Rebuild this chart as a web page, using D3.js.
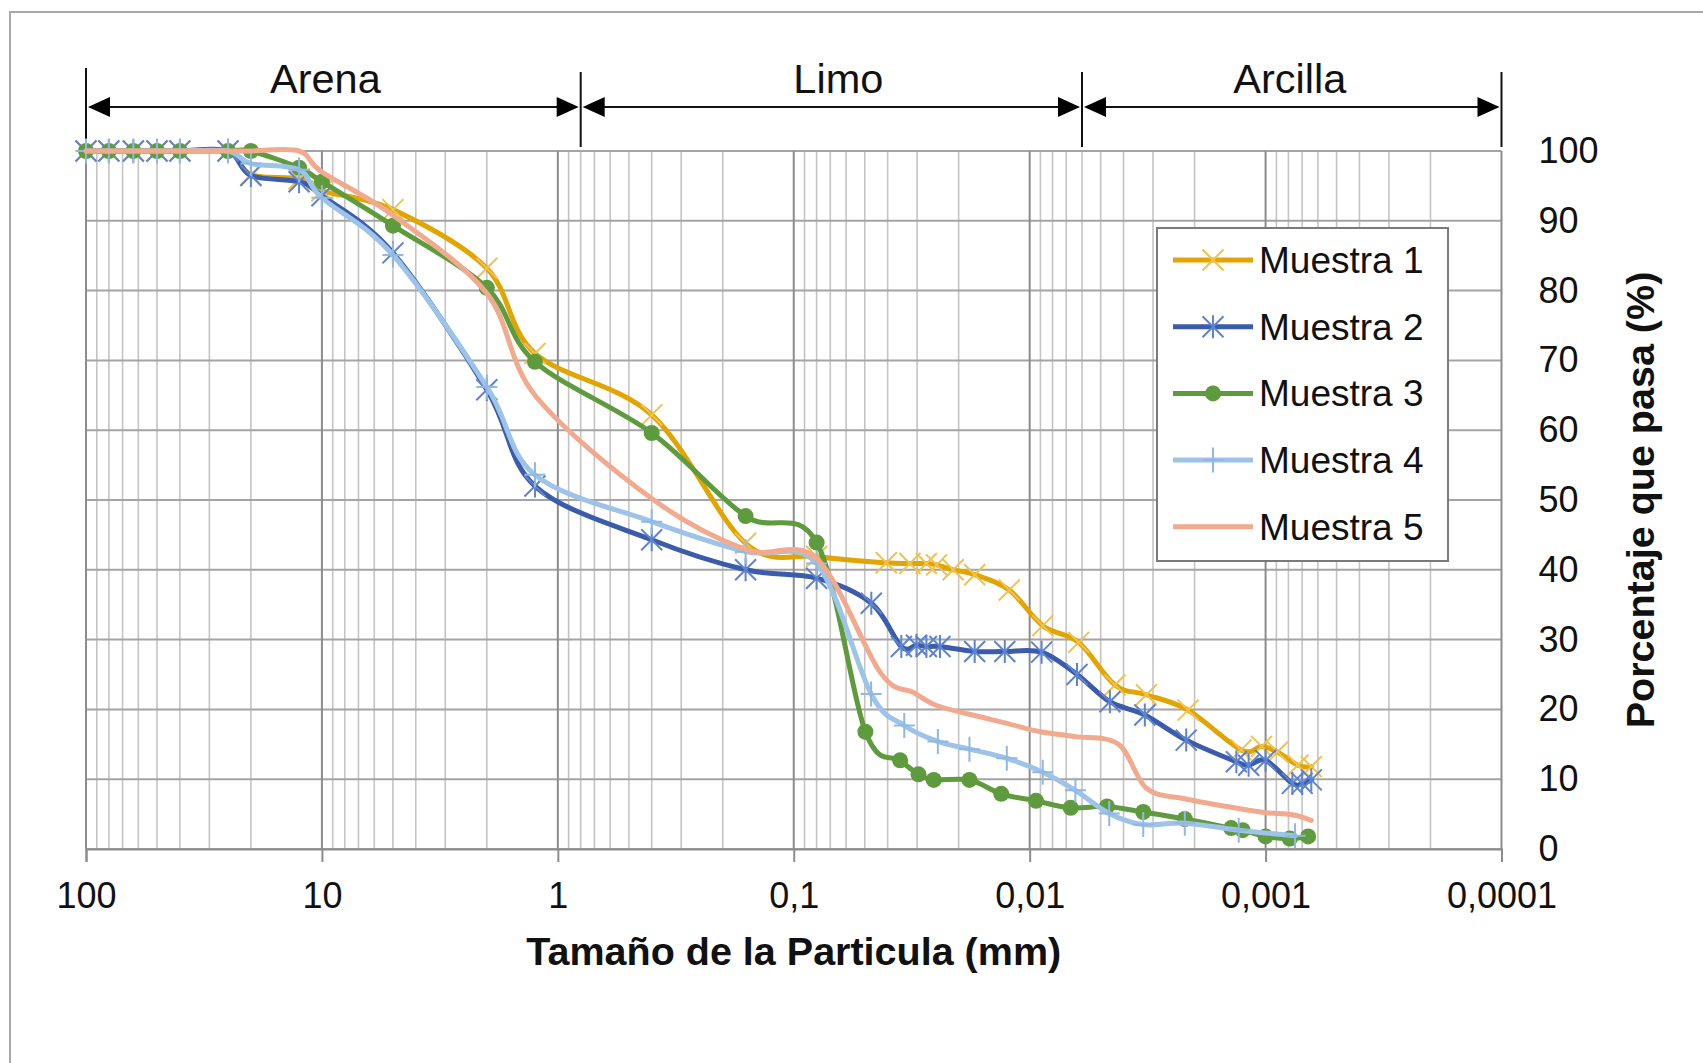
<!DOCTYPE html>
<html><head><meta charset="utf-8">
<script src="https://cdn.jsdelivr.net/npm/d3@7"></script>
<style>
html,body{margin:0;padding:0;background:#fff;overflow:hidden;}
svg{display:block;font-family:"Liberation Sans",Arial,sans-serif;}
</style></head><body>
<svg id="chart" width="1703" height="1063"></svg>
<script>
// ---------------- DATA ----------------
const seriesNames = ["Muestra 1", "Muestra 2", "Muestra 3", "Muestra 4", "Muestra 5"];
const sieveSizes = [100, 80, 63, 50, 40, 25, 20, 12.5, 10, 5, 2, 1.25, 0.4, 0.16, 0.08];

const m1Sieve = [100, 100, 100, 100, 100, 100, 96.6, 96.0, 94.3, 91.6, 83.2, 71.0, 62.2, 43.8, 41.9];
const m2Sieve = [100, 100, 100, 100, 100, 100, 96.5, 95.6, 93.6, 85.4, 65.8, 52.0, 44.3, 40.0, 38.8];
const m3Sieve = [100, 100, 100, 100, 100, 100, 100, 97.6, 95.6, 89.3, 80.4, 69.8, 59.6, 47.7, 43.9];
const m4Sieve = [100, 100, 100, 100, 100, 100, 98.2, 97.3, 93.3, 85.1, 66.2, 53.6, 46.9, 42.6, 40.9];
const m5Sieve = [100, 100, 100, 100, 100, 100, 100, 100, 97.0, 90.8, 79.6, 65.0, 50.2, 42.9, 41.6];

const m1HydSize = [0.0405, 0.0322, 0.0274, 0.0248, 0.0211, 0.0171, 0.0122, 0.0088, 0.0062, 0.00435, 0.0032, 0.00213, 0.00127, 0.00104, 0.00089, 0.00073, 0.00064];
const m1HydPct  = [41.0, 40.9, 40.9, 40.7, 40.0, 39.3, 37.1, 32.0, 29.6, 23.5, 22.1, 19.9, 14.2, 14.7, 13.9, 12.0, 11.8];

const m2HydSize = [0.0469, 0.035, 0.0302, 0.0274, 0.024, 0.0171, 0.01275, 0.0089, 0.0063, 0.00457, 0.00325, 0.00217, 0.00133, 0.00118, 0.001, 0.00077, 0.0007, 0.00064];
const m2HydPct  = [35.2, 29.0, 29.2, 29.0, 29.0, 28.3, 28.3, 28.2, 25.0, 21.1, 19.2, 15.6, 12.5, 12.0, 12.7, 9.4, 9.4, 9.9];

const m3HydSize = [0.0497, 0.0354, 0.0296, 0.0255, 0.018, 0.0132, 0.0094, 0.0067, 0.0047, 0.0033, 0.0022, 0.0014, 0.00125, 0.001, 0.00079, 0.00066];
const m3HydPct  = [16.8, 12.7, 10.7, 9.9, 9.9, 7.9, 6.9, 5.9, 6.1, 5.3, 4.3, 3.0, 2.7, 1.8, 1.5, 1.8];

const m4HydSize = [0.047, 0.034, 0.0245, 0.018, 0.0125, 0.0088, 0.0064, 0.0046, 0.0033, 0.0022, 0.0013, 0.00075];
const m4HydPct  = [22.2, 17.7, 15.4, 14.3, 13.0, 11.0, 8.4, 5.1, 3.5, 3.7, 2.7, 1.9];

const m5HydSize = [0.043, 0.031, 0.025, 0.018, 0.0125, 0.009, 0.0064, 0.0042, 0.0032, 0.0022, 0.0013, 0.001, 0.00077, 0.00064];
const m5HydPct  = [25.3, 22.4, 20.6, 19.3, 18.0, 16.8, 16.1, 15.0, 8.7, 7.2, 5.8, 5.2, 4.9, 4.1];

const xTickValues = [100, 10, 1, 0.1, 0.01, 0.001, 0.0001];
const xTickLabels = ["100", "10", "1", "0,1", "0,01", "0,001", "0,0001"];
const yTickValues = [0, 10, 20, 30, 40, 50, 60, 70, 80, 90, 100];

const zoneNames = ["Arena", "Limo", "Arcilla"];
const zoneBounds = [100, 0.8, 0.006, 0.0001];

const xTitle = "Tamaño de la Particula (mm)";
const yTitle = "Porcentaje que pasa (%)";

// ---------------- STYLE ----------------
const lineColors   = ["#E2A400", "#3A5CAA", "#5E9B3D", "#9DC3E8", "#F2AA8F"];
const markerColors = ["#F0C24E", "#5E83D0", "#5E9B3D", "#8FB8E4", null];
const markerTypes  = ["x", "asterisk", "circle", "plus", "none"];
const FONT = '"Liberation Sans", Arial, sans-serif';
const TXT = "#111";

// ---------------- BUILD ----------------
const svg = d3.select("#chart");
const x = d3.scaleLog().domain([100, 0.0001]).range([86, 1501.5]);
const y = d3.scaleLinear().domain([0, 100]).range([849, 151]);

function build(sizes, pcts) { return sizes.map((s, i) => [s, pcts[i]]); }
const seriesData = [
  build(sieveSizes, m1Sieve).concat(build(m1HydSize, m1HydPct)),
  build(sieveSizes, m2Sieve).concat(build(m2HydSize, m2HydPct)),
  build(sieveSizes, m3Sieve).concat(build(m3HydSize, m3HydPct)),
  build(sieveSizes, m4Sieve).concat(build(m4HydSize, m4HydPct)),
  build(sieveSizes, m5Sieve).concat(build(m5HydSize, m5HydPct))
];

// outer frame (top & left visible)
svg.append("rect").attr("x", 10).attr("y", 12).attr("width", 1720).attr("height", 1080)
  .attr("fill", "none").attr("stroke", "#A8A8A8").attr("stroke-width", 2);

// grid
const minorVals = [];
for (let e = -4; e < 2; e++) for (let k = 2; k <= 9; k++) minorVals.push(k * Math.pow(10, e));
const grid = svg.append("g");
grid.selectAll("line.minor").data(minorVals).join("line")
  .attr("x1", d => x(d)).attr("x2", d => x(d)).attr("y1", y(100)).attr("y2", y(0))
  .attr("stroke", "#C4C4C4").attr("stroke-width", 1.6);
grid.selectAll("line.h").data(yTickValues).join("line")
  .attr("x1", x(100)).attr("x2", x(0.0001)).attr("y1", d => y(d)).attr("y2", d => y(d))
  .attr("stroke", "#A4A4A4").attr("stroke-width", 2);
grid.selectAll("line.major").data(xTickValues).join("line")
  .attr("x1", d => x(d)).attr("x2", d => x(d)).attr("y1", y(100)).attr("y2", y(0))
  .attr("stroke", "#8C8C8C").attr("stroke-width", 2);

// x axis
const xAxis = d3.axisBottom(x).tickValues(xTickValues)
  .tickFormat((d, i) => xTickLabels[i]).tickSize(13).tickPadding(20);
const gx = svg.append("g").attr("transform", `translate(0,${y(0)})`).call(xAxis);
gx.select(".domain").attr("stroke", "#8C8C8C").attr("stroke-width", 2);
gx.selectAll(".tick line").attr("stroke", "#8C8C8C").attr("stroke-width", 2);
gx.selectAll(".tick text").attr("font-size", 36).attr("font-family", FONT).attr("fill", TXT);

// y axis (right)
const yAxis = d3.axisRight(y).tickValues(yTickValues).tickSize(0).tickPadding(37);
const gy = svg.append("g").attr("transform", `translate(${x(0.0001)},0)`).call(yAxis);
gy.select(".domain").remove();
gy.selectAll(".tick text").attr("font-size", 36).attr("font-family", FONT).attr("fill", TXT);

// axis titles
svg.append("text").attr("x", (x(100) + x(0.0001)) / 2).attr("y", 965)
  .attr("text-anchor", "middle").attr("font-size", 39.5).attr("font-weight", "bold")
  .attr("fill", TXT).text(xTitle);
svg.append("text").attr("transform", `translate(1654,${(y(0) + y(100)) / 2}) rotate(-90)`)
  .attr("text-anchor", "middle").attr("font-size", 39.5).attr("font-weight", "bold")
  .attr("fill", TXT).text(yTitle);

// zone annotation arrows
const ann = svg.append("g");
const arrowY = 107;
zoneBounds.forEach((b, i) => {
  const top = i === 0 ? 68 : 72;
  const bottom = i === 0 ? y(100) : 147;
  ann.append("line").attr("x1", x(b)).attr("x2", x(b)).attr("y1", top).attr("y2", bottom)
    .attr("stroke", "#111").attr("stroke-width", 2);
});
zoneNames.forEach((name, i) => {
  const x0 = x(zoneBounds[i]) + 2, x1 = x(zoneBounds[i + 1]) - 2;
  ann.append("line").attr("x1", x0 + 10).attr("x2", x1 - 10).attr("y1", arrowY).attr("y2", arrowY)
    .attr("stroke", "#111").attr("stroke-width", 2.2);
  ann.append("path").attr("d", `M${x0},${arrowY} L${x0 + 22},${arrowY - 10} L${x0 + 22},${arrowY + 10} Z`).attr("fill", "#000");
  ann.append("path").attr("d", `M${x1},${arrowY} L${x1 - 22},${arrowY - 10} L${x1 - 22},${arrowY + 10} Z`).attr("fill", "#000");
  ann.append("text").attr("x", (x0 + x1) / 2 - (i === 0 ? 8 : (i === 1 ? -7 : 2))).attr("y", 93)
    .attr("text-anchor", "middle").attr("font-size", 41.5).attr("fill", TXT).text(name);
});

// marker drawing
function drawMarker(g, type, color, cx, cy) {
  const s = 10.5;
  if (type === "x") {
    g.append("path").attr("d", `M${cx - s},${cy - s} L${cx + s},${cy + s} M${cx - s},${cy + s} L${cx + s},${cy - s}`)
      .attr("stroke", color).attr("stroke-width", 2).attr("fill", "none");
  } else if (type === "asterisk") {
    g.append("path").attr("d", `M${cx - s},${cy - s} L${cx + s},${cy + s} M${cx - s},${cy + s} L${cx + s},${cy - s} M${cx},${cy - s - 1} L${cx},${cy + s + 1}`)
      .attr("stroke", color).attr("stroke-width", 2).attr("fill", "none");
  } else if (type === "circle") {
    g.append("circle").attr("cx", cx).attr("cy", cy).attr("r", 8).attr("fill", color);
  } else if (type === "plus") {
    g.append("path").attr("d", `M${cx - s},${cy} L${cx + s},${cy} M${cx},${cy - s - 2} L${cx},${cy + s + 2}`)
      .attr("stroke", color).attr("stroke-width", 2).attr("fill", "none");
  }
}

// series
const line = d3.line().x(d => x(d[0])).y(d => y(d[1])).curve(d3.curveCardinal.tension(0));
seriesData.forEach((data, i) => {
  const g = svg.append("g");
  g.append("path").datum(data).attr("d", line).attr("fill", "none")
    .attr("stroke", lineColors[i]).attr("stroke-width", 5).attr("stroke-linejoin", "round").attr("stroke-linecap", "round");
  if (markerTypes[i] !== "none") {
    data.forEach(d => drawMarker(g, markerTypes[i], markerColors[i], x(d[0]), y(d[1])));
  }
});

// legend
const lg = svg.append("g");
lg.append("rect").attr("x", 1157).attr("y", 228).attr("width", 291).attr("height", 333)
  .attr("fill", "#fff").attr("stroke", "#7A7A7A").attr("stroke-width", 2);
seriesNames.forEach((name, i) => {
  const cy = 260 + i * 66.7;
  lg.append("line").attr("x1", 1173).attr("x2", 1253).attr("y1", cy).attr("y2", cy)
    .attr("stroke", lineColors[i]).attr("stroke-width", 5);
  if (markerTypes[i] !== "none") drawMarker(lg, markerTypes[i], markerColors[i], 1213, cy);
  lg.append("text").attr("x", 1259).attr("y", cy).attr("dy", "0.35em")
    .attr("font-size", 37).attr("fill", TXT).text(name);
});
</script>
</body></html>
